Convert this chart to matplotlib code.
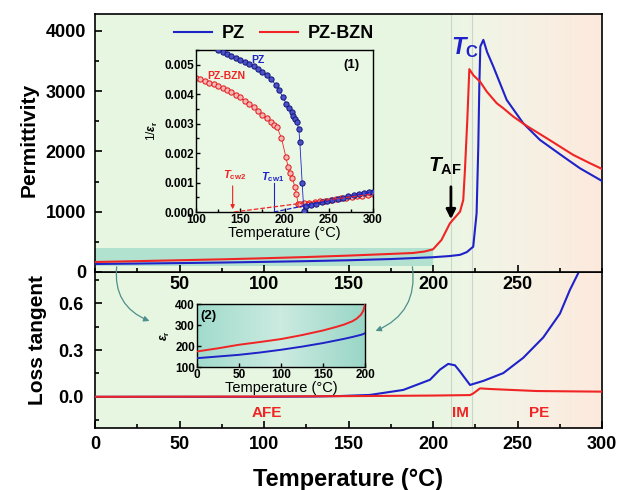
import matplotlib
matplotlib.use("Agg")
import matplotlib.pyplot as plt
import numpy as np
from matplotlib.patches import Rectangle, FancyArrowPatch
from matplotlib.ticker import MultipleLocator

plt.rcParams['font.family'] = ['Liberation Sans', 'DejaVu Sans']
plt.rcParams['font.weight'] = 'bold'
plt.rcParams['mathtext.fontset'] = 'custom'
plt.rcParams['mathtext.rm'] = 'Liberation Sans:bold'
plt.rcParams['mathtext.bf'] = 'Liberation Sans:bold'
plt.rcParams['mathtext.it'] = 'Liberation Sans:bold:italic'

BLUE = '#1f22c8'
RED = '#f02424'

# permittivity vs temperature (main, top panel)
pz_T = [0, 25, 50, 75, 100, 125, 150, 175, 200, 210, 216, 220, 223.8, 225.8,
        226.8, 227.4, 228, 229.8, 232, 235.7, 243.6, 253.4, 263.3, 277.1, 287, 300]
pz_eps = [133, 140, 148, 157, 168, 180, 195, 215, 245, 265, 285, 330, 420, 974,
          2080, 3076, 3740, 3851, 3650, 3408, 2855, 2467, 2191, 1914, 1720, 1510]
bzn_T = [0, 25, 50, 75, 100, 125, 150, 175, 188, 195, 200, 205, 210, 216, 217.9,
         218.9, 220.3, 221.5, 224, 227.8, 231.8, 237.7, 241.6, 247.5, 255.4,
         267.3, 283, 292.9, 300]
bzn_eps = [166, 180, 195, 210, 228, 248, 272, 300, 315, 340, 376, 531, 807, 1001,
           1195, 1693, 2523, 3365, 3260, 3160, 2993, 2800, 2717, 2578, 2424,
           2219, 1942, 1804, 1710]

# loss tangent (bottom panel)
pz_lossT = [0, 50, 100, 130, 145, 162.7, 182.4, 198.2, 204.1, 209, 213, 215.9,
            221.9, 229.8, 241.6, 253.4, 265.2, 275.1, 281, 286, 290]
pz_loss = [0.0, 0.0, 0.0, 0.002, 0.005, 0.012, 0.044, 0.109, 0.174, 0.211, 0.202,
           0.163, 0.076, 0.102, 0.152, 0.25, 0.38, 0.533, 0.685, 0.794, 0.87]
bzn_lossT = [0, 100, 160, 200, 221.9, 223.9, 227.8, 233.7, 261.3, 300]
bzn_loss = [0.0, 0.002, 0.005, 0.008, 0.011, 0.022, 0.054, 0.05, 0.037, 0.033]

# inset (1): 1/eps_r (x1e-3)
pz_invT = [125, 130, 135, 140, 145, 150, 155, 160, 165, 170, 175, 180, 185, 190,
           194, 198, 202, 205, 208, 210, 212, 214, 216.2, 217.3, 220, 221.8,
           224, 230, 236, 242, 248, 254, 260, 266, 272, 278, 284, 290, 296, 300]
pz_inv = [5.51, 5.44, 5.37, 5.30, 5.22, 5.15, 5.09, 5.04, 4.96, 4.87, 4.77, 4.64,
          4.50, 4.32, 4.13, 3.90, 3.68, 3.52, 3.38, 3.27, 3.16, 3.04, 2.81, 2.39,
          0.97, 0.05, 0.20, 0.24, 0.28, 0.33, 0.37, 0.41, 0.45, 0.49, 0.53, 0.57,
          0.61, 0.64, 0.67, 0.69]
bzn_invT = [100, 105, 110, 115, 120, 125, 130, 135, 140, 145, 150, 155, 160, 165,
            170, 175, 180, 185, 188, 191.7, 196.6, 201.5, 204.1, 206, 209, 211.7,
            213.5, 215.4, 217, 222, 228, 234, 240, 246, 252, 258, 264, 270, 276,
            282, 288, 294, 300]
bzn_inv = [4.55, 4.50, 4.44, 4.39, 4.33, 4.27, 4.21, 4.15, 4.07, 3.98, 3.89, 3.78,
           3.67, 3.55, 3.44, 3.31, 3.18, 3.05, 2.97, 2.875, 2.50, 1.875, 1.53,
           1.31, 1.14, 0.85, 0.60, 0.28, 0.27, 0.29, 0.31, 0.34, 0.36, 0.39, 0.41,
           0.44, 0.46, 0.49, 0.51, 0.54, 0.56, 0.59, 0.61]
# Curie-Weiss fits
pz_fitT = [188, 300]
pz_fit = [0.0, 0.69]
bzn_fitT = [143, 300]
bzn_fit = [0.0, 0.61]

# inset (2): low temperature permittivity
low_T = [0, 25, 50, 75, 100, 125, 150, 165, 175, 185, 190, 195, 198, 200]
low_bzn = [174, 189, 206, 219, 233, 252, 274, 290, 302, 318, 330, 348, 368, 398]
low_pz = [142, 150, 158, 169, 182, 197, 214, 226, 234, 243, 248, 253, 257, 261]

W, H = 619, 490


def fig_rect(x0, y0, x1, y1):
    # pixel box (top-left origin) -> figure fraction
    return [x0 / W, 1 - y1 / H, (x1 - x0) / W, (y1 - y0) / H]


def gradient_bg(ax, stops, cols, zorder=0):
    xs = np.linspace(0, 1, 256)
    cols = np.array(cols)
    img = np.stack([np.interp(xs, stops, cols[:, k]) for k in range(3)], axis=-1)
    ax.imshow(img[None, :, :], extent=[0, 1, 0, 1], transform=ax.transAxes,
              aspect='auto', zorder=zorder, interpolation='bilinear')


def style_axes(ax, size, width=1.2):
    for s in ax.spines.values():
        s.set_linewidth(width)
    ax.tick_params(which='both', direction='in', width=width, labelsize=size)
    ax.tick_params(which='major', length=5)
    ax.tick_params(which='minor', length=3)


main_stops = [0, 0.68, 0.75, 0.85, 1.0]
main_cols = [(0.905, 0.965, 0.885), (0.91, 0.965, 0.885), (0.94, 0.96, 0.90),
             (0.965, 0.945, 0.895), (0.99, 0.915, 0.865)]

fig = plt.figure(figsize=(W / 100, H / 100), dpi=100)
ax_top = fig.add_axes(fig_rect(95, 14, 602, 272))
ax_bot = fig.add_axes(fig_rect(95, 272, 602, 428))
ax_top.set_zorder(2)
ax_bot.set_zorder(1)

for ax in (ax_top, ax_bot):
    gradient_bg(ax, main_stops, main_cols)
    ax.axvline(210.6, color='#c9d6c9', lw=0.8, zorder=1)
    ax.axvline(223, color='#c9d6c9', lw=0.8, zorder=1)
    ax.set_xlim(0, 300)
    ax.xaxis.set_major_locator(MultipleLocator(50))
    ax.xaxis.set_minor_locator(MultipleLocator(25))
    style_axes(ax, 13)

# top panel
ax_top.add_patch(Rectangle((0, 100), 200, 300, facecolor='#8fd3c4', alpha=0.6,
                           edgecolor='none', zorder=1))
ax_top.plot(pz_T, pz_eps, color=BLUE, lw=1.5, label='PZ', zorder=3)
ax_top.plot(bzn_T, bzn_eps, color=RED, lw=1.5, label='PZ-BZN', zorder=3)
ax_top.set_ylim(0, 4280)
ax_top.yaxis.set_major_locator(MultipleLocator(1000))
ax_top.yaxis.set_minor_locator(MultipleLocator(500))
ax_top.set_xticks([50, 100, 150, 200, 250])
ax_top.set_xticklabels(['50', '100', '150', '200', '250'])
ax_top.tick_params(axis='x', pad=3)
ax_top.tick_params(axis='y', pad=6.5)
ax_top.set_ylabel('Permittivity', fontsize=15, fontweight='bold')
ax_top.yaxis.set_label_coords(-0.112, 0.512)
ax_top.legend(loc='upper center', bbox_to_anchor=(0.353, 1.02), ncol=2,
              frameon=False, handlelength=2.1, columnspacing=0.85,
              handletextpad=0.55, prop={'weight': 'bold', 'size': 13})
ax_top.text(218.9, 3718, r'$T_\mathrm{C}$', color=BLUE, fontsize=17,
            ha='center', va='center', zorder=4)
ax_top.text(207, 1748, r'$T_\mathrm{AF}$', color='black', fontsize=15,
            ha='center', va='center', zorder=4)
ax_top.annotate('', xy=(210.6, 830), xytext=(210.6, 1460),
                arrowprops=dict(arrowstyle='-|>', color='black', lw=2,
                                mutation_scale=14), zorder=4)

# bottom panel
ax_bot.plot(pz_lossT, pz_loss, color=BLUE, lw=1.5, zorder=3)
ax_bot.plot(bzn_lossT, bzn_loss, color=RED, lw=1.5, zorder=3)
ax_bot.set_ylim(-0.2, 0.8)
ax_bot.set_yticks([0.0, 0.3, 0.6])
ax_bot.yaxis.set_minor_locator(MultipleLocator(0.15))
ax_bot.tick_params(axis='x', pad=6)
ax_bot.tick_params(axis='y', pad=8)
ax_bot.set_ylabel('Loss tangent', fontsize=15, fontweight='bold')
ax_bot.yaxis.set_label_coords(-0.094, 0.564)
for lab, xx in (('AFE', 101.8), ('IM', 216), ('PE', 262.7)):
    ax_bot.text(xx, -0.105, lab, color=RED, fontsize=11, ha='center',
                va='center', zorder=4)
fig.text(348 / W, 4 / H, 'Temperature (°C)', fontsize=17, ha='center',
         va='baseline')

# inset (1)
ax1 = fig.add_axes(fig_rect(196, 50, 373, 212))
ax1.set_zorder(4)
ax1.set_facecolor('#e9f7e5')
style_axes(ax1, 8.5, width=1.0)
ax1.tick_params(which='major', length=3)
ax1.tick_params(which='minor', length=2)
ax1.plot(pz_invT, np.array(pz_inv) * 1e-3, color=BLUE, lw=0.6, marker='o',
         ms=3.8, mfc='#4a52c8', mec='#15157a', mew=0.7, zorder=3)
ax1.plot(bzn_invT, np.array(bzn_inv) * 1e-3, color=RED, lw=0.6, marker='o',
         ms=3.8, mfc='#f6b4b4', mec='#e01818', mew=0.7, zorder=2)
ax1.plot(pz_fitT, np.array(pz_fit) * 1e-3, color=BLUE, lw=0.9, ls='--', zorder=4)
ax1.plot(bzn_fitT, np.array(bzn_fit) * 1e-3, color=RED, lw=0.9, ls='--', zorder=4)
ax1.set_xlim(100, 300)
ax1.set_ylim(0, 0.0055)
ax1.xaxis.set_major_locator(MultipleLocator(50))
ax1.xaxis.set_minor_locator(MultipleLocator(25))
ax1.yaxis.set_major_locator(MultipleLocator(0.001))
ax1.yaxis.set_minor_locator(MultipleLocator(0.0005))
ax1.yaxis.set_major_formatter(plt.FuncFormatter(lambda v, p: '%.3f' % v))
ax1.tick_params(axis='x', pad=1.5)
ax1.tick_params(axis='y', pad=1.5)
ax1.set_xlabel('Temperature (°C)', fontsize=10.5, labelpad=0)
ax1.set_ylabel(r'1/$\mathit{\varepsilon}_\mathrm{r}$', fontsize=8.5, labelpad=3)
ax1.text(276, 0.0050, '(1)', fontsize=9.5, ha='center', va='center')
ax1.text(170, 0.00515, 'PZ', color=BLUE, fontsize=7.5, ha='center', va='center')
ax1.text(134.6, 0.00462, 'PZ-BZN', color=RED, fontsize=7.5, ha='center',
         va='center')
ax1.text(144, 0.00125, r'$T_\mathrm{cw2}$', color=RED, fontsize=8,
         ha='center', va='center')
ax1.text(187, 0.0012, r'$T_\mathrm{cw1}$', color=BLUE, fontsize=8,
         ha='center', va='center')
ax1.annotate('', xy=(141.4, 0.0), xytext=(141.4, 0.00098),
             arrowprops=dict(arrowstyle='-|>', color=RED, lw=0.8,
                             mutation_scale=6))
ax1.plot([188.3, 188.3], [0.0, 0.00098], color=BLUE, lw=0.8)

# inset (2)
ax2 = fig.add_axes(fig_rect(197, 304, 365, 367))
ax2.set_zorder(4)
gradient_bg(ax2, [0, 0.5, 1], [(0.63, 0.86, 0.80), (0.80, 0.92, 0.88),
                               (0.60, 0.84, 0.78)])
style_axes(ax2, 8.5, width=1.0)
ax2.tick_params(which='major', length=3)
ax2.plot(low_T, low_bzn, color=RED, lw=1.4, zorder=3)
ax2.plot(low_T, low_pz, color=BLUE, lw=1.4, zorder=3)
ax2.set_xlim(0, 200)
ax2.set_ylim(100, 400)
ax2.set_yticks([100, 200, 300, 400])
ax2.xaxis.set_major_locator(MultipleLocator(50))
ax2.tick_params(axis='x', pad=1.5)
ax2.tick_params(axis='y', pad=1.5)
ax2.set_xlabel('Temperature (°C)', fontsize=10.5, labelpad=0)
ax2.set_ylabel(r'$\mathit{\varepsilon}_\mathrm{r}$', fontsize=8.5, labelpad=2)
ax2.text(14, 345, '(2)', fontsize=9.5, ha='center', va='center')

# curved arrows from the shaded band to inset (2)
for pa, pb, rad in (((117, 226), (152, 168), 0.4), ((412, 226), (373, 158), -0.4)):
    arr = FancyArrowPatch(pa, pb, transform=None, connectionstyle='arc3,rad=%s' % rad,
                          arrowstyle='-|>', mutation_scale=8, color='#4f8f8c',
                          lw=0.9, zorder=6)
    fig.add_artist(arr)

fig.savefig('out.png', dpi=100)
